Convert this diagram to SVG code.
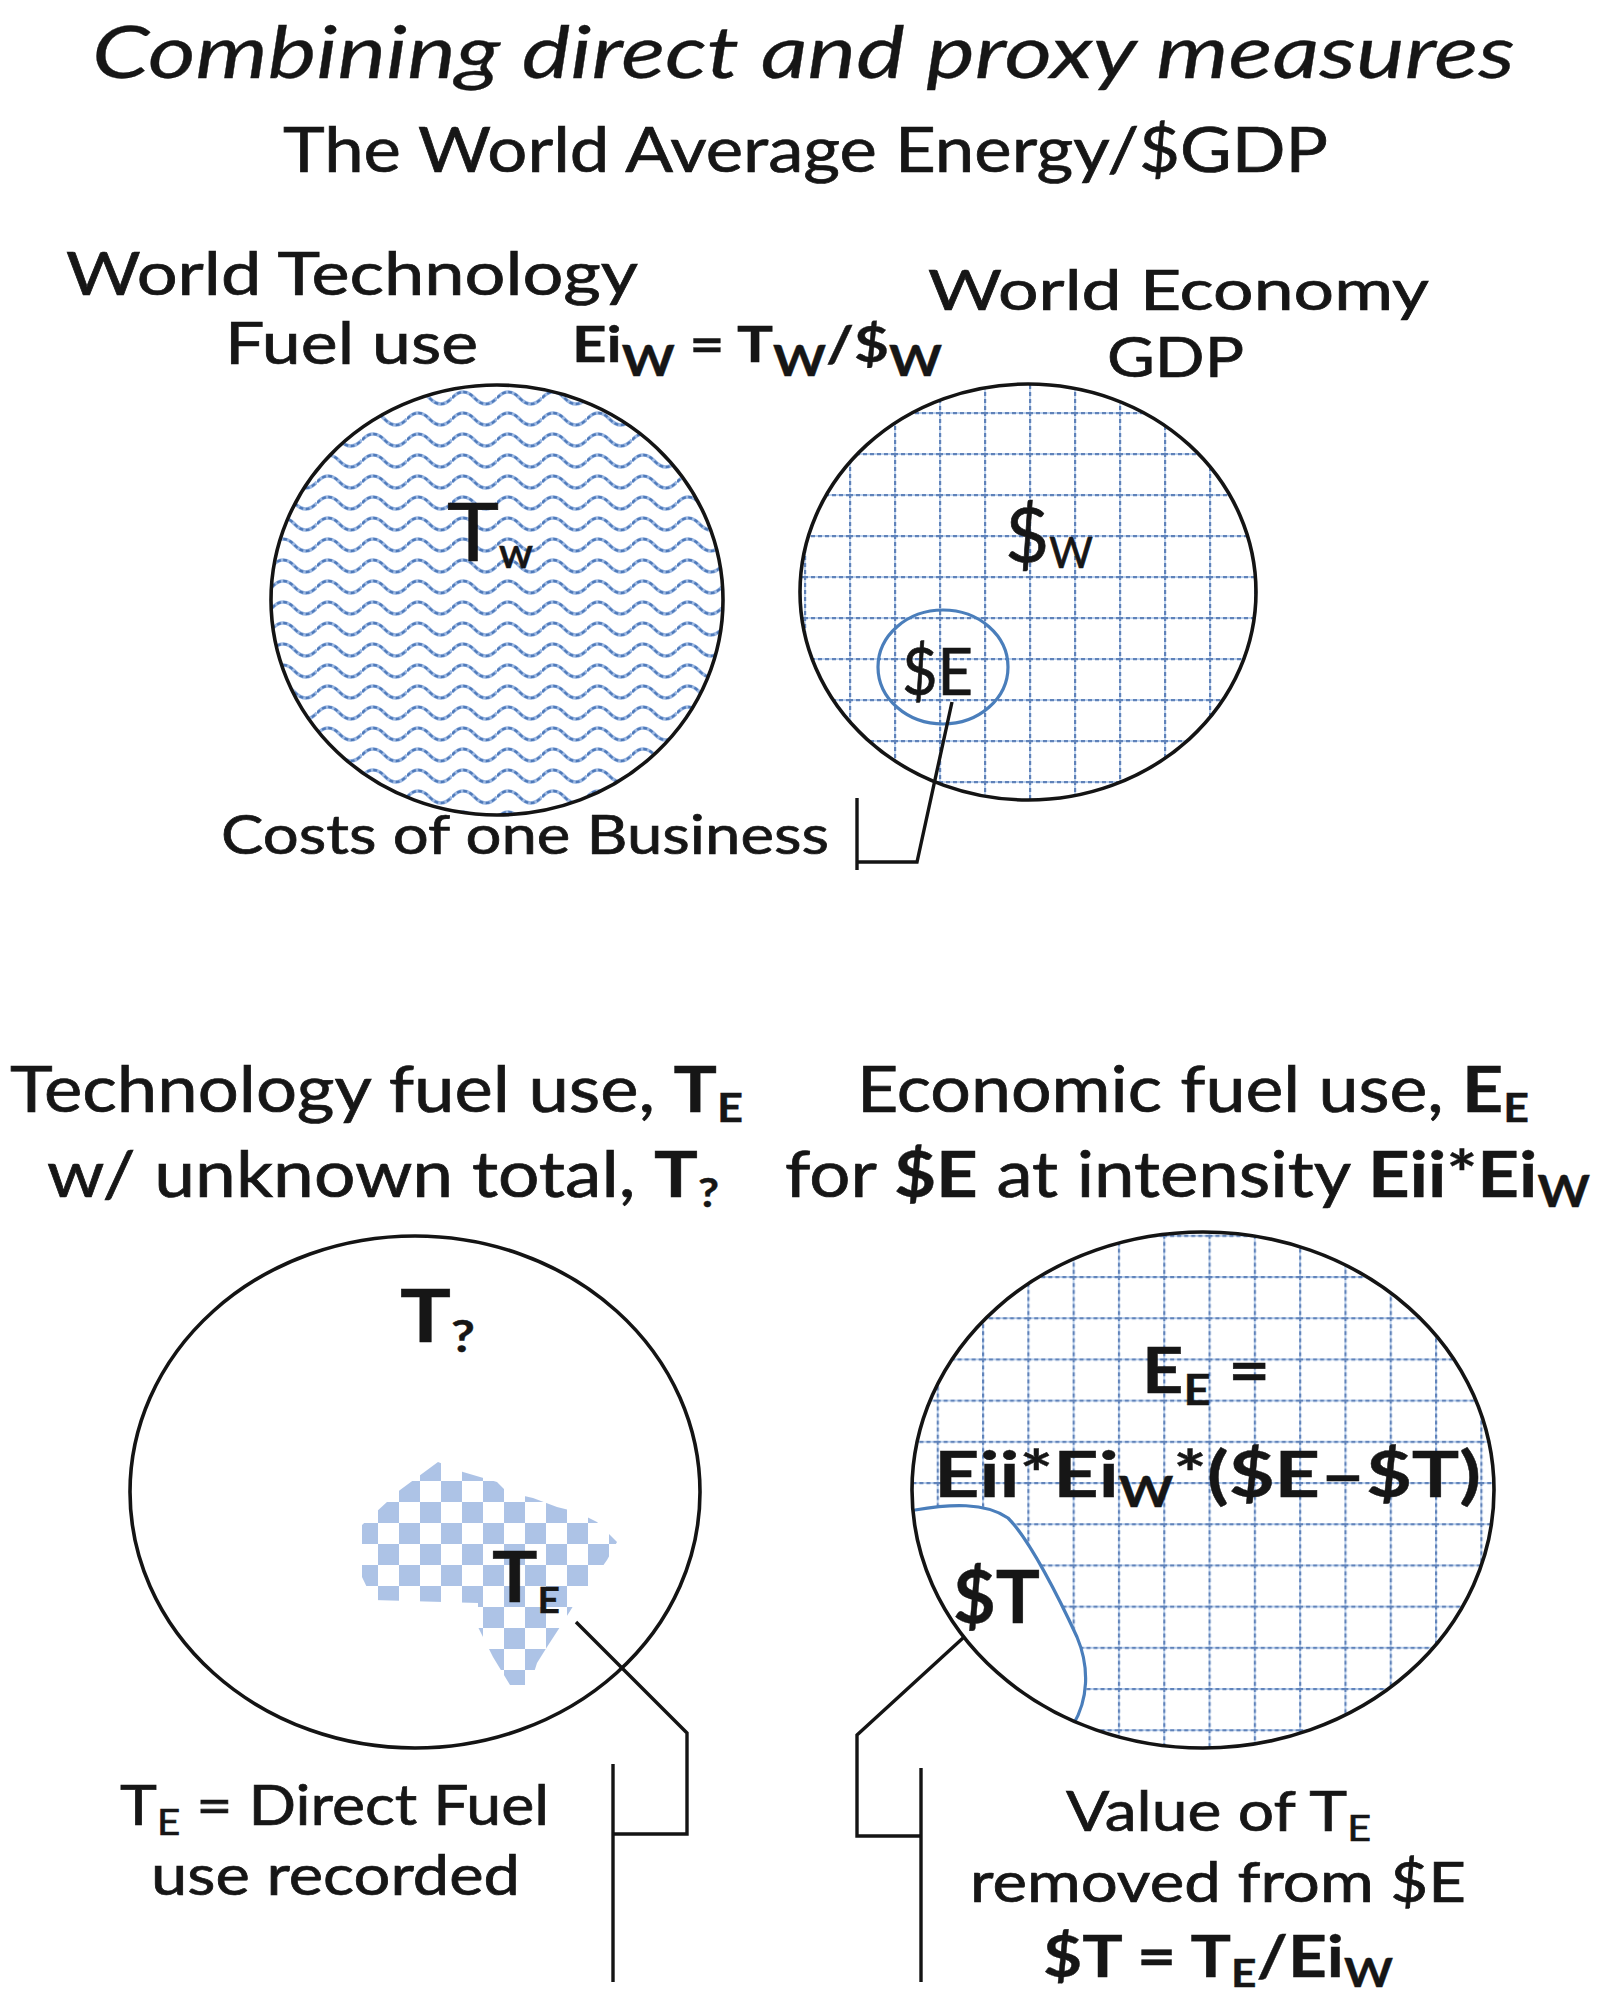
<svg xmlns="http://www.w3.org/2000/svg" width="1611" height="2014" viewBox="0 0 1611 2014">
<style>
text{font-family:Lato,"Liberation Sans",sans-serif;fill:#161616;stroke:#161616;stroke-width:0.7}
.b{font-weight:700;stroke-width:0.4}
.it{stroke-width:0.3}
.ring{fill:none;stroke:#141414;stroke-width:3.6}
.blue{fill:none;stroke:#4a7ebb;stroke-width:3.2}
.lead{fill:none;stroke:#141414;stroke-width:3.4;stroke-linejoin:miter}
</style>
<defs>
<pattern id="wave" patternUnits="userSpaceOnUse" x="272" y="386" width="45" height="21">
<path d="M0,12 C7.5,4 15,4 22.5,12 C30,20 37.5,20 45,12" fill="none" stroke="#9db9e3" stroke-width="3.6"/>
<path d="M0,12 C7.5,4 15,4 22.5,12 C30,20 37.5,20 45,12" fill="none" stroke="#4f7aba" stroke-width="2.4" stroke-dasharray="4 2.5"/>
</pattern>
<pattern id="gridA" patternUnits="userSpaceOnUse" x="849" y="412" width="45" height="41">
<path d="M0,1H45M1,0V41" stroke="#bcd2ef" stroke-width="1.8"/>
<path d="M0,1H45M1,0V41" stroke="#5f82b9" stroke-width="2.4" stroke-dasharray="4 3"/>
</pattern>
<pattern id="gridB" patternUnits="userSpaceOnUse" x="982" y="1276" width="45.3" height="41.2">
<path d="M0,1H45.3M1,0V41.2" stroke="#bcd2ef" stroke-width="1.8"/>
<path d="M0,1H45.3M1,0V41.2" stroke="#5f82b9" stroke-width="2.4" stroke-dasharray="4 3"/>
</pattern>
<pattern id="check" patternUnits="userSpaceOnUse" x="420" y="1502" width="42" height="42">
<rect x="0" y="0" width="21" height="21" fill="#adc3e6"/>
<rect x="21" y="21" width="21" height="21" fill="#adc3e6"/>
</pattern>
<clipPath id="clipBR"><ellipse cx="1203" cy="1490" rx="291" ry="258"/></clipPath>
</defs>
<rect width="1611" height="2014" fill="#ffffff"/>

<g id="title">
<text class="it" x="92" y="78" font-size="72" font-style="italic" textLength="1423" lengthAdjust="spacingAndGlyphs">Combining direct and proxy measures</text>
</g>
<g id="subtitle">
<text x="283" y="172" font-size="62" textLength="1045" lengthAdjust="spacingAndGlyphs">The World Average Energy/$GDP</text>
</g>

<g id="node-world-technology">
<text x="66" y="295" font-size="60" textLength="572" lengthAdjust="spacingAndGlyphs">World Technology</text>
<text x="225" y="364" font-size="58" textLength="253" lengthAdjust="spacingAndGlyphs">Fuel use</text>
<ellipse cx="497" cy="600" rx="226" ry="215" fill="url(#wave)"/>
<ellipse class="ring" cx="497" cy="600" rx="226" ry="215"/>
<text x="447" y="561" font-size="82" textLength="86" lengthAdjust="spacingAndGlyphs">T<tspan class="b" font-size="30" dy="7">W</tspan></text>
</g>

<g id="node-intensity">
<text class="b" x="572" y="362" font-size="50" textLength="370" lengthAdjust="spacingAndGlyphs">Ei<tspan font-size="42" dy="14">W</tspan><tspan dy="-14"> = T</tspan><tspan font-size="42" dy="14">W</tspan><tspan dy="-14">/$</tspan><tspan font-size="42" dy="14">W</tspan></text>
</g>

<g id="node-world-economy">
<text x="928" y="310" font-size="56" textLength="501" lengthAdjust="spacingAndGlyphs">World Economy</text>
<text x="1107" y="377" font-size="56" textLength="137" lengthAdjust="spacingAndGlyphs">GDP</text>
<ellipse cx="1028" cy="592" rx="228" ry="208" fill="url(#gridA)"/>
<ellipse class="ring" cx="1028" cy="592" rx="228" ry="208"/>
<text x="1005" y="562" font-size="76" textLength="88" lengthAdjust="spacingAndGlyphs">$<tspan font-size="42" dy="6">W</tspan></text>
</g>

<g id="node-business">
<ellipse class="blue" cx="943" cy="667" rx="65" ry="57"/>
<text x="902" y="695" font-size="66" textLength="71" lengthAdjust="spacingAndGlyphs">$E</text>
<text x="221" y="854" font-size="54" textLength="608" lengthAdjust="spacingAndGlyphs">Costs of one Business</text>
</g>

<g id="node-technology-fuel">
<text x="10" y="1112" font-size="64" textLength="733" lengthAdjust="spacingAndGlyphs">Technology fuel use, <tspan class="b">T</tspan><tspan class="b" font-size="40" dy="10">E</tspan></text>
<text x="47" y="1197" font-size="64" textLength="672" lengthAdjust="spacingAndGlyphs">w/ unknown total, <tspan class="b">T</tspan><tspan class="b" font-size="40" dy="10">?</tspan></text>
<ellipse class="ring" cx="415" cy="1492" rx="285" ry="256"/>
<text class="b" x="400" y="1342" font-size="72" textLength="75" lengthAdjust="spacingAndGlyphs">T<tspan font-size="44" dy="10">?</tspan></text>
<polygon fill="url(#check)" points="362,1525 400,1490 438,1462 463,1472 497,1482 507,1492 533,1498 557,1507 577,1512 597,1522 617,1542 607,1560 593,1580 577,1600 560,1627 547,1647 537,1663 530,1685 510,1685 493,1657 478,1627 478,1603 373,1600 362,1577"/>
<text class="b" x="492" y="1602" font-size="70" textLength="68" lengthAdjust="spacingAndGlyphs">T<tspan font-size="36" dy="11">E</tspan></text>
</g>

<g id="node-direct-fuel">
<text x="120" y="1825" font-size="56" textLength="429" lengthAdjust="spacingAndGlyphs">T<tspan font-size="36" dy="10">E</tspan><tspan dy="-10"> = Direct Fuel</tspan></text>
<text x="151" y="1895" font-size="56" textLength="369" lengthAdjust="spacingAndGlyphs">use recorded</text>
</g>

<g id="node-economic-fuel">
<text x="857" y="1112" font-size="64" textLength="672" lengthAdjust="spacingAndGlyphs">Economic fuel use, <tspan class="b">E</tspan><tspan class="b" font-size="40" dy="10">E</tspan></text>
<text x="785" y="1197" font-size="64" textLength="805" lengthAdjust="spacingAndGlyphs">for <tspan class="b">$E</tspan> at intensity <tspan class="b">Eii*Ei</tspan><tspan class="b" font-size="44" dy="10">W</tspan></text>
<ellipse cx="1203" cy="1490" rx="291" ry="258" fill="url(#gridB)"/>
<g clip-path="url(#clipBR)">
<path d="M915,1510 C950,1504 985,1502 1008,1518 C1030,1540 1060,1600 1077,1637 C1090,1668 1088,1700 1073,1725 L1073,1780 L880,1780 L880,1510 Z" fill="#ffffff"/>
<path class="blue" d="M905,1511 L915,1510 C950,1504 985,1502 1008,1518 C1030,1540 1060,1600 1077,1637 C1090,1668 1088,1700 1073,1725 L1070,1740"/>
</g>
<ellipse class="ring" cx="1203" cy="1490" rx="291" ry="258"/>
<text class="b" x="1142" y="1393" font-size="64" textLength="128" lengthAdjust="spacingAndGlyphs">E<tspan font-size="42" dy="12">E</tspan><tspan dy="-12"> =</tspan></text>
<text class="b" x="934" y="1497" font-size="64" textLength="547" lengthAdjust="spacingAndGlyphs">Eii*Ei<tspan font-size="42" dy="10">W</tspan><tspan dy="-10">*($E–$T)</tspan></text>
<text class="b" x="953" y="1623" font-size="72" textLength="87" lengthAdjust="spacingAndGlyphs">$T</text>
</g>

<g id="node-value">
<text x="1066" y="1831" font-size="56" textLength="305" lengthAdjust="spacingAndGlyphs">Value of T<tspan font-size="36" dy="10">E</tspan></text>
<text x="970" y="1902" font-size="56" textLength="496" lengthAdjust="spacingAndGlyphs">removed from $E</text>
<text class="b" x="1043" y="1977" font-size="58" textLength="350" lengthAdjust="spacingAndGlyphs">$T = T<tspan font-size="38" dy="10">E</tspan><tspan dy="-10">/Ei</tspan><tspan font-size="40" dy="10">W</tspan></text>
</g>

<g id="connectors">
<polyline class="lead" points="952,702 917,862 857,862"/>
<line class="lead" x1="857" y1="798" x2="857" y2="870"/>
<polyline class="lead" points="576,1622 687,1733 687,1834 613,1834"/>
<line class="lead" x1="613" y1="1764" x2="613" y2="1982"/>
<polyline class="lead" points="963,1638 857,1735 857,1836 921,1836"/>
<line class="lead" x1="921" y1="1768" x2="921" y2="1982"/>
</g>
</svg>
